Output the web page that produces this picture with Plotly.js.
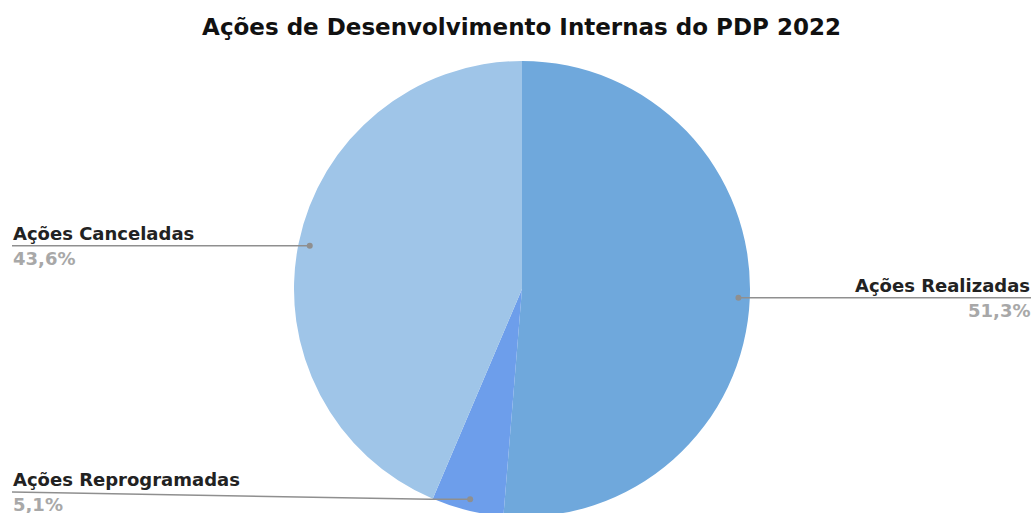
<!DOCTYPE html>
<html><head><meta charset="utf-8">
<script src="https://cdn.plot.ly/plotly-3.0.1.min.js"></script>
<style>html,body{margin:0;padding:0;overflow:hidden;background:#fff}#chart{width:1034px;height:517px}</style>
</head><body><div id="chart"></div>
<script>
const chartTitle = "Ações de Desenvolvimento Internas do PDP 2022";
const categories = ["Ações Realizadas", "Ações Reprogramadas", "Ações Canceladas"];
const percents = [51.3, 5.1, 43.6];
const colors = ["#6fa8dc", "#6d9eeb", "#9fc5e8"];

const W = 1034, H = 517;
const cx = 522, cy = 289, R = 228;
const total = percents.reduce((a, b) => a + b, 0);
const FONT = 'DejaVu Sans, Verdana, sans-serif';

const annotations = [], shapes = [];
const fmt = v => v.toFixed(1).replace('.', ',') + '%';
let cum = 0;
percents.forEach((v, i) => {
  const mid = (cum + v / 2) / total * 2 * Math.PI;
  cum += v;
  const dx = cx + 0.95 * R * Math.sin(mid);
  const dy = cy - 0.95 * R * Math.cos(mid);
  const right = Math.sin(mid) > 0;
  const ly = Math.min(dy, H - 25);
  const ex = right ? W - 3 : 12;
  const P = (x, y) => [x / W, 1 - y / H];
  let path;
  const [x0, y0] = P(dx, dy);
  const [x2, y2] = P(ex, ly);
  if (Math.abs(ly - dy) > 1) {
    const [x1, y1] = P(dx + (right ? 40 : -40), dy);
    path = `M${x0},${y0} L${x1},${y1} L${x2},${y2}`;
  } else {
    path = `M${x0},${y0} L${x2},${y2}`;
  }
  shapes.push({type: 'path', xref: 'paper', yref: 'paper', path: path, line: {color: '#8f8f8f', width: 1.5}});
  const [cx0, cy0] = P(dx - 3, dy - 3), [cx1, cy1] = P(dx + 3, dy + 3);
  shapes.push({type: 'circle', xref: 'paper', yref: 'paper', x0: cx0, y0: cy0, x1: cx1, y1: cy1,
    fillcolor: '#8f8f8f', line: {width: 0}});
  const [ax, ay] = P(ex, ly);
  annotations.push({xref: 'paper', yref: 'paper', x: ax, y: ay + 1 / H, xanchor: right ? 'right' : 'left',
    yanchor: 'bottom', text: '<b>' + categories[i] + '</b>', showarrow: false,
    font: {family: FONT, size: 18, color: '#222222'}, borderpad: 0});
  annotations.push({xref: 'paper', yref: 'paper', x: ax, y: ay - 1 / H, xanchor: right ? 'right' : 'left',
    yanchor: 'top', text: '<b>' + fmt(v) + '</b>', showarrow: false,
    font: {family: FONT, size: 18, color: '#a8a8a8'}, borderpad: 0});
});

const data = [{
  type: 'pie',
  labels: categories,
  values: percents,
  sort: false,
  direction: 'clockwise',
  rotation: 0,
  textinfo: 'none',
  hoverinfo: 'label+percent',
  marker: {colors: colors, line: {width: 0}},
  domain: {x: [(cx - R) / W, (cx + R) / W], y: [1 - (cy + R) / H, 1 - (cy - R) / H]}
}];

const layout = {
  width: W, height: H,
  margin: {l: 0, r: 0, t: 0, b: 0},
  paper_bgcolor: '#ffffff',
  showlegend: false,
  title: {text: '<b>' + chartTitle + '</b>', x: 521.5 / W, xanchor: 'center', y: 1 - 27 / H, yanchor: 'middle',
    font: {family: FONT, size: 23, color: '#111111'}},
  annotations: annotations,
  shapes: shapes
};
Plotly.newPlot('chart', data, layout, {displayModeBar: false, staticPlot: true});
</script></body></html>
